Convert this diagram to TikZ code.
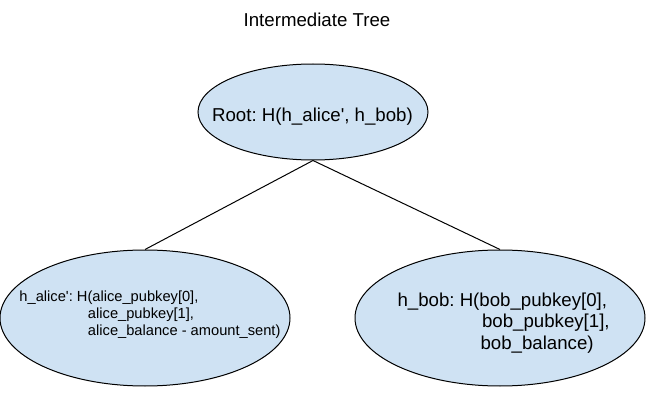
\documentclass[tikz,border=0pt]{standalone}
\usepackage{fontspec}
\setmainfont{Liberation Sans}
\usetikzlibrary{positioning,shapes.geometric}
\definecolor{nodeblue}{HTML}{CFE2F3}
\tikzset{
	hashnode/.style = {ellipse, draw=black, fill=nodeblue, line width=1pt, inner sep=0pt},
	    hash/.style = {inner sep=0pt, align=left},
	     big/.style = {font=\fontsize{18.67}{21.5}\selectfont},
	   small/.style = {font=\fontsize{14.67}{17}\selectfont}
}

\begin{document}
\frenchspacing
\begin{tikzpicture}[x=1pt, y=-1pt, line width=1pt]
	\useasboundingbox (0,0) rectangle (670,409);
	\node[big, inner sep=0pt, anchor=base] (title) at (317,26.7) {Intermediate Tree};
	% ellipses
	\node[hashnode, minimum width=230pt, minimum height=96pt]  (root)  at (313,112) {};
	\node[hashnode, minimum width=290pt, minimum height=136pt] (alice) at (145,318) {};
	\node[hashnode, minimum width=290pt, minimum height=136pt] (bob)   at (500,318) {};
	% texts
	\node[hash, big, anchor=base] (roottext) at (312.5,121.7)
		{Root: H(h\_alice\textquotesingle, h\_bob)};
	\node[hash, small, anchor=north west] (alicetext) at (19,290.5)
		{h\_alice\textquotesingle: H(alice\_pubkey[0],\\
		 \hspace*{68.5pt}alice\_pubkey[1],\\
		 \hspace*{68.5pt}alice\_balance - amount\_sent)};
	\node[hash, big, anchor=north west] (bobtext) at (397,292)
		{h\_bob: H(bob\_pubkey[0],\\
		 \hspace*{84.5pt}bob\_pubkey[1],\\
		 \hspace*{83pt}bob\_balance)};
	\draw
		(root.south) -- (alice.north)
		(root.south) -- (bob.north);
\end{tikzpicture}
\end{document}
